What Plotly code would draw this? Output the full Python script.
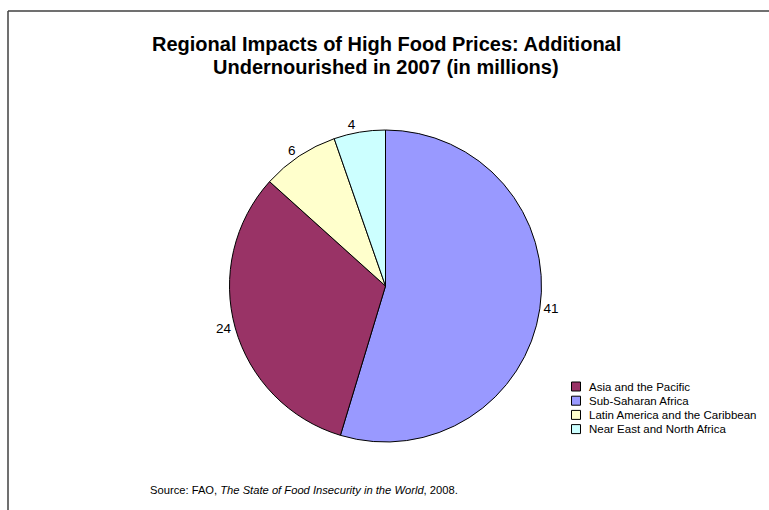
import plotly.graph_objects as go

# Data
slice_labels = ["Sub-Saharan Africa", "Asia and the Pacific", "Latin America and the Caribbean", "Near East and North Africa"]
slice_values = [41, 24, 6, 4]
slice_colors = ["#9999FF", "#993366", "#FFFFCC", "#CCFFFF"]

legend_labels = ["Asia and the Pacific", "Sub-Saharan Africa", "Latin America and the Caribbean", "Near East and North Africa"]
legend_colors = ["#993366", "#9999FF", "#FFFFCC", "#CCFFFF"]

title_lines = ["Regional Impacts of High Food Prices: Additional", "Undernourished in 2007 (in millions)"]
source_text = "Source: FAO, <i>The State of Food Insecurity in the World</i>, 2008."

W, H = 769, 510
FONT = "Liberation Sans, Arial, sans-serif"

fig = go.Figure()
fig.add_trace(go.Pie(
    labels=slice_labels,
    values=slice_values,
    sort=False,
    direction="clockwise",
    rotation=0,
    marker=dict(colors=slice_colors, line=dict(color="#000000", width=1)),
    textinfo="value",
    textposition="outside",
    textfont=dict(family=FONT, size=13.5, color="#000000"),
    showlegend=False,
    hoverinfo="label+value",
    domain=dict(x=[228.5 / W, 542.5 / W], y=[(H - 442) / H, (H - 130) / H]),
))

shapes = [
    dict(type="line", xref="paper", yref="paper", x0=8 / W, x1=8 / W, y0=0, y1=1 - 11 / H,
         line=dict(color="#404040", width=1.5)),
    dict(type="line", xref="paper", yref="paper", x0=8 / W, x1=1, y0=1 - 11 / H, y1=1 - 11 / H,
         line=dict(color="#404040", width=1.5)),
]
annotations = [dict(
    text=source_text, xref="paper", yref="paper",
    x=148 / W, xanchor="left", y=1 - 490 / H, yanchor="middle",
    showarrow=False,
    font=dict(family=FONT, size=11.2, color="#000000"),
)]
# Title (two centred lines)
for ln, yc in zip(title_lines, [44, 67]):
    annotations.append(dict(text="<b>" + ln + "</b>", xref="paper", yref="paper",
                            x=386 / W, xanchor="center", y=1 - yc / H, yanchor="middle",
                            showarrow=False,
                            font=dict(family=FONT, size=20, color="#000000")))
# Legend drawn as boxes + text (compact spacing like the original)
row0, gap = 386.5, 14.2
for i, (lab, col) in enumerate(zip(legend_labels, legend_colors)):
    yc = row0 + i * gap
    shapes.append(dict(type="rect", xref="paper", yref="paper",
                       x0=571.5 / W, x1=580.5 / W, y0=1 - (yc + 4.5) / H, y1=1 - (yc - 4.5) / H,
                       fillcolor=col, line=dict(color="#000000", width=1)))
    annotations.append(dict(text=lab, xref="paper", yref="paper",
                            x=587 / W, xanchor="left", y=1 - yc / H, yanchor="middle",
                            showarrow=False,
                            font=dict(family=FONT, size=11.5, color="#000000")))

fig.update_layout(
    width=W, height=H,
    margin=dict(l=0, r=0, t=0, b=0),
    paper_bgcolor="#FFFFFF",
    plot_bgcolor="#FFFFFF",
    showlegend=False,
    annotations=annotations,
    shapes=shapes,
)

fig.write_html("out.html")
